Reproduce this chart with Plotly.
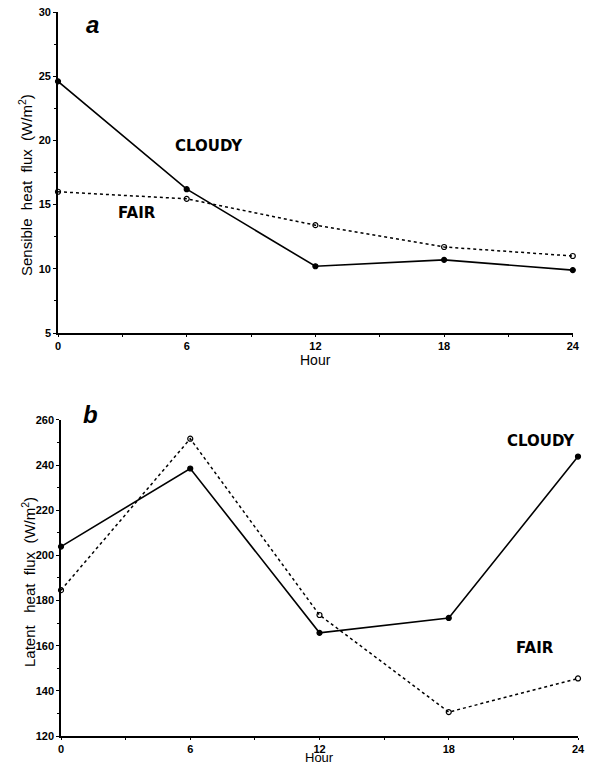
import plotly.graph_objects as go

hours = [0, 6, 12, 18, 24]
sensible_cloudy = [24.6, 16.2, 10.2, 10.7, 9.9]
sensible_fair = [16.0, 15.45, 13.4, 11.7, 11.0]
latent_cloudy = [203.9, 238.5, 165.7, 172.3, 243.8]
latent_fair = [184.6, 251.7, 173.6, 130.6, 145.5]

x_ticks = [0, 6, 12, 18, 24]
a_yticks = [5, 10, 15, 20, 25, 30]
b_yticks = [120, 140, 160, 180, 200, 220, 240, 260]

fig = go.Figure()

def add_series(x, y, xa, ya, dash, symbol):
    fig.add_trace(go.Scatter(
        x=x, y=y, xaxis=xa, yaxis=ya, mode="lines+markers",
        line=dict(color="black", width=1.6 if dash == "solid" else 1.5, dash=dash),
        marker=dict(symbol=symbol, size=5, color="black",
                    line=dict(color="black", width=1.2)),
        showlegend=False, cliponaxis=False))

add_series(hours, sensible_cloudy, "x", "y", "solid", "circle")
add_series(hours, sensible_fair, "x", "y", "dot", "circle-open")
add_series(hours, latent_cloudy, "x2", "y2", "solid", "circle")
add_series(hours, latent_fair, "x2", "y2", "dot", "circle-open")

tickfont = dict(family="Liberation Sans", size=11, color="black", weight="bold")
titlefont = dict(family="Liberation Sans", size=14, color="black")
titlefont_b = dict(family="Liberation Sans", size=13, color="black")
ytitlefont = dict(family="Liberation Sans", size=15, color="black")

axis_common = dict(showline=True, linecolor="black", linewidth=1.6,
                   ticks="outside", tickwidth=1.3, tickcolor="black",
                   showgrid=False, zeroline=False, tickfont=tickfont,
                   mirror=False, automargin=False)

fig.update_layout(
    width=589, height=767,
    margin=dict(l=58, r=11, t=12, b=31),
    paper_bgcolor="white", plot_bgcolor="white",
    xaxis=dict(domain=[0, 0.990], range=[0, 24], tickvals=x_ticks, anchor="y", ticklen=2,
               minor=dict(ticks="outside", ticklen=2, dtick=3, tickcolor="black"),
               **axis_common),
    yaxis=dict(domain=[0.5566, 1.0], range=[5, 30], tickvals=a_yticks, anchor="x", ticklen=3,
               minor=dict(ticks="outside", ticklen=2, dtick=2.5, tickcolor="black"),
               **axis_common),
    xaxis2=dict(domain=[0.00577, 1.0], range=[0, 24], tickvals=x_ticks, anchor="y2", ticklen=2,
                minor=dict(ticks="outside", ticklen=2, dtick=3, tickcolor="black"),
                **axis_common),
    yaxis2=dict(domain=[0, 0.4365], range=[120, 260], tickvals=b_yticks, anchor="x2", ticklen=3,
                minor=dict(ticks="outside", ticklen=2, dtick=10, tickcolor="black"),
                **axis_common),
)

label_font = dict(family="DejaVu Sans", size=15, color="black", weight="bold")
ann = [
    dict(x=1.6, y=0.96, xref="x", yref="y domain", text="<b><i>a</i></b>",
         font=dict(family="Liberation Sans", size=24, color="black")),
    dict(x=1.35, y=1.016, xref="x2", yref="y2 domain", text="<b><i>b</i></b>",
         font=dict(family="Liberation Sans", size=24, color="black")),
    dict(x=7.04, y=19.57, xref="x", yref="y", text="CLOUDY", font=label_font),
    dict(x=3.68, y=14.36, xref="x", yref="y", text="FAIR", font=label_font),
    dict(x=22.28, y=250.8, xref="x2", yref="y2", text="CLOUDY", font=label_font),
    dict(x=22.0, y=159.1, xref="x2", yref="y2", text="FAIR", font=label_font),
    # axis titles
    dict(x=0.5, y=-0.084, xref="x domain", yref="y domain", text="Hour", font=titlefont),
    dict(x=0.5, y=-0.0665, xref="x2 domain", yref="y2 domain", text="Hour", font=titlefont_b),
    dict(x=-0.0635, y=0.761, xref="paper", yref="paper", textangle=-90,
         text="Sensible  heat  flux  (W/m<sup>2</sup>)", font=ytitlefont),
    dict(x=-0.0577, y=0.2127, xref="paper", yref="paper", textangle=-90,
         text="Latent   heat  flux  (W/m<sup>2</sup>)", font=ytitlefont),
]
for a in ann:
    a["showarrow"] = False
    a["xanchor"] = "center"
    a["yanchor"] = "middle"
fig.update_layout(annotations=ann)

fig.write_html("out.html")
